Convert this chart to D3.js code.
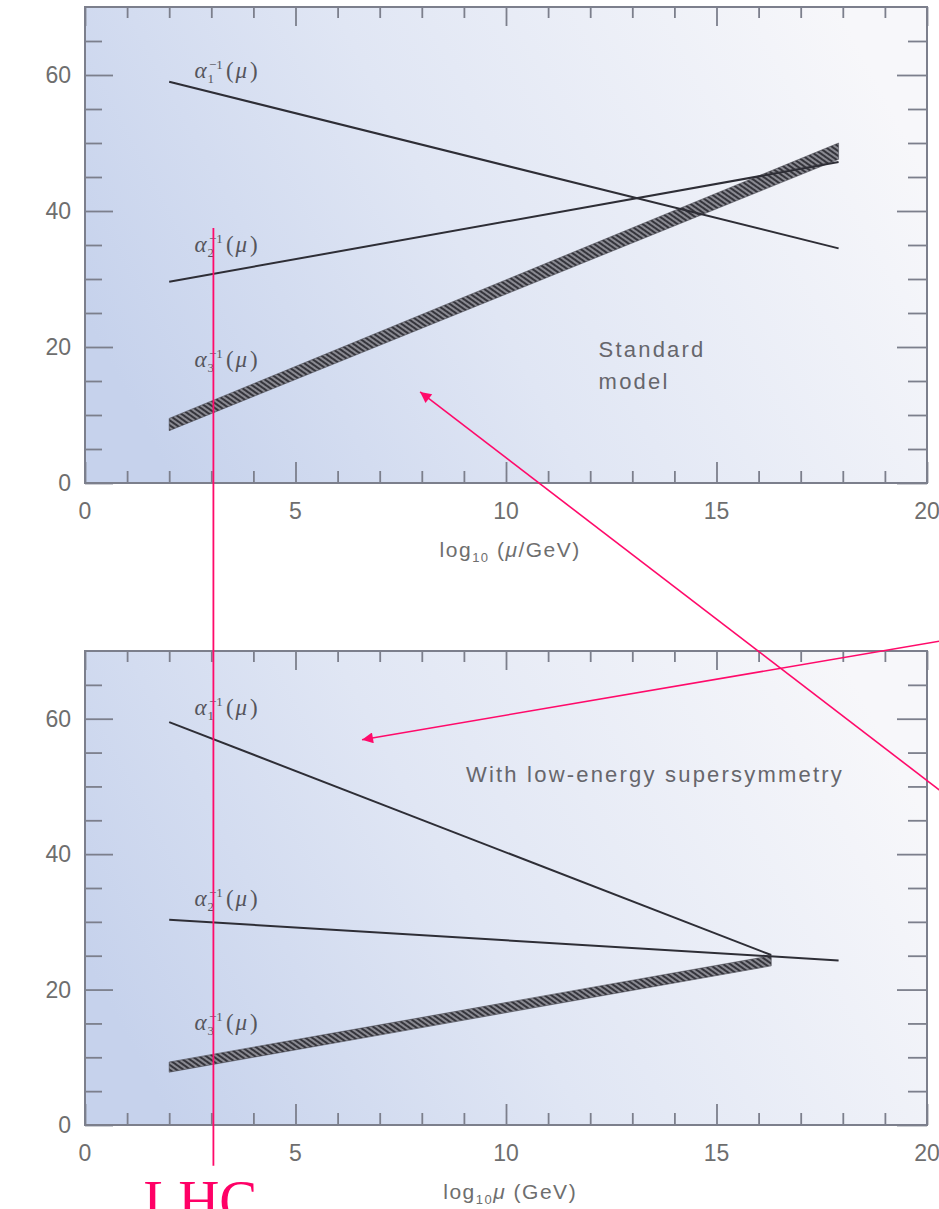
<!DOCTYPE html>
<html>
<head>
<meta charset="utf-8">
<script src="https://cdn.jsdelivr.net/npm/d3@7"></script>
<style>
  body { margin: 0; background: #fff; }
  svg { display: block; }
</style>
</head>
<body>
<div class="chart"></div>
<script>
// ticks
var xMajor = [0, 5, 10, 15, 20];
var xMinor = [1, 2, 3, 4, 6, 7, 8, 9, 11, 12, 13, 14, 16, 17, 18, 19];
var yMajor = [0, 20, 40, 60];
var yMinor = [5, 10, 15, 25, 30, 35, 45, 50, 55, 65];

// standard model: [log10 mu, alpha^-1]
var smAlpha1 = [[2, 59.0], [17.9, 34.5]];
var smAlpha2 = [[2, 29.6], [17.9, 47.2]];
var smAlpha3Low = [[2, 7.7], [17.9, 47.6]];
var smAlpha3High = [[2, 9.5], [17.9, 50.0]];

// with low-energy supersymmetry
var susyAlpha1 = [[2, 59.5], [16.3, 25.1]];
var susyAlpha2 = [[2, 30.3], [17.9, 24.3]];
var susyAlpha3Low = [[2, 7.8], [16.3, 23.5]];
var susyAlpha3High = [[2, 9.3], [16.3, 25.0]];

// annotations (data coords of the panel they start in)
var lhcX = 3.05;
var lhcTop = 37.5;     // top panel
var lhcBottom = -6.0;  // bottom panel
var arrowSusy = [[21, 72.2], [6.58, 56.9]];   // bottom panel
var arrowSm = [[21, -48.5], [7.96, 13.4]];    // top panel

var W = 939, H = 1209;
var pink = "#ff0a6a";

var svg = d3.select(".chart").append("svg")
    .attr("width", W)
    .attr("height", H);

var defs = svg.append("defs");

var grad = defs.append("linearGradient")
    .attr("id", "bg")
    .attr("x1", "0").attr("y1", "0.65")
    .attr("x2", "1").attr("y2", "0.35");
grad.append("stop").attr("offset", "0").attr("stop-color", "#c6d2ec");
grad.append("stop").attr("offset", "0.45").attr("stop-color", "#e0e6f4");
grad.append("stop").attr("offset", "1").attr("stop-color", "#f7f7fa");

var hatch = defs.append("pattern")
    .attr("id", "hatch")
    .attr("patternUnits", "userSpaceOnUse")
    .attr("width", 4)
    .attr("height", 4)
    .attr("patternTransform", "rotate(-55)");
hatch.append("rect")
    .attr("width", 4).attr("height", 4)
    .style("fill", "#8a8a92");
hatch.append("rect")
    .attr("width", 2).attr("height", 4)
    .style("fill", "#35353c");

defs.append("marker")
    .attr("id", "arrow")
    .attr("viewBox", "0 0 10 10")
    .attr("refX", 10).attr("refY", 5)
    .attr("markerWidth", 15).attr("markerHeight", 11)
    .attr("markerUnits", "userSpaceOnUse")
    .attr("orient", "auto")
    .append("path")
    .attr("d", "M0,0 L10,5 L0,10 z")
    .style("fill", pink);

var x = d3.scaleLinear().domain([0, 20]).range([85, 927]);

function drawPanel(top, bottom, series, band, labels, note, xTitle){
    var y = d3.scaleLinear().domain([0, 70]).range([bottom, top]);
    var g = svg.append("g");

    g.append("rect")
        .attr("x", x(0))
        .attr("y", y(70))
        .attr("width", x(20) - x(0))
        .attr("height", y(0) - y(70))
        .style("fill", "url(#bg)");

    // ticks on all four sides, pointing inward
    var axes = [
        [d3.axisTop(x).tickValues(xMinor).tickSize(12), "translate(0," + y(0) + ")"],
        [d3.axisTop(x).tickValues(xMajor).tickSize(21), "translate(0," + y(0) + ")"],
        [d3.axisBottom(x).tickValues(xMinor).tickSize(11), "translate(0," + y(70) + ")"],
        [d3.axisBottom(x).tickValues(xMajor).tickSize(19), "translate(0," + y(70) + ")"],
        [d3.axisRight(y).tickValues(yMinor).tickSize(17), "translate(" + x(0) + ",0)"],
        [d3.axisRight(y).tickValues(yMajor).tickSize(28), "translate(" + x(0) + ",0)"],
        [d3.axisLeft(y).tickValues(yMinor).tickSize(19), "translate(" + x(20) + ",0)"],
        [d3.axisLeft(y).tickValues(yMajor).tickSize(30), "translate(" + x(20) + ",0)"]
    ];
    axes.forEach(function(a){
        var ax = g.append("g")
            .attr("transform", a[1])
            .call(a[0].tickFormat(""));
        ax.select(".domain").remove();
        ax.selectAll("line")
            .style("stroke", "#7c7f8c")
            .style("stroke-width", 1.8);
    });

    g.append("rect")
        .attr("x", x(0))
        .attr("y", y(70))
        .attr("width", x(20) - x(0))
        .attr("height", y(0) - y(70))
        .style("fill", "none")
        .style("stroke", "#7c7f8c")
        .style("stroke-width", 2);

    // tick labels
    g.selectAll(".xl")
        .data(xMajor)
        .enter().append("text")
        .attr("x", function(d){ return x(d); })
        .attr("y", y(0) + 36)
        .attr("text-anchor", "middle")
        .style("font-family", "Liberation Sans, Arial")
        .style("font-size", "23px")
        .style("fill", "#6e6e6e")
        .text(function(d){ return d; });

    g.selectAll(".yl")
        .data(yMajor)
        .enter().append("text")
        .attr("x", x(0) - 14)
        .attr("y", function(d){ return y(d) + 8; })
        .attr("text-anchor", "end")
        .style("font-family", "Liberation Sans, Arial")
        .style("font-size", "23px")
        .style("fill", "#6e6e6e")
        .text(function(d){ return d; });

    // x title
    var t = g.append("text")
        .attr("x", x(10.1))
        .attr("y", y(0) + 74)
        .attr("text-anchor", "middle")
        .style("font-family", "Liberation Sans, Arial")
        .style("font-size", "21px")
        .style("letter-spacing", "1.5px")
        .style("fill", "#6e6e6e");
    xTitle.forEach(function(p){
        var s = t.append("tspan").text(p.t);
        if (p.sub) s.style("font-size", "13px").attr("dy", 5);
        if (p.after) s.attr("dy", -5);
        if (p.it) s.style("font-style", "italic");
    });

    // hatched band (alpha3)
    var area = d3.area()
        .x(function(d){ return x(d[0]); })
        .y0(function(d){ return y(d[1]); })
        .y1(function(d, i){ return y(band[1][i][1]); });
    g.append("path")
        .datum(band[0])
        .attr("d", area)
        .style("fill", "url(#hatch)")
        .style("stroke", "#4a4a52")
        .style("stroke-width", 0.6);

    var ln = d3.line()
        .x(function(d){ return x(d[0]); })
        .y(function(d){ return y(d[1]); });
    series.forEach(function(s){
        g.append("path")
            .datum(s)
            .attr("d", ln)
            .style("fill", "none")
            .style("stroke", "#2e2e36")
            .style("stroke-width", 2);
    });

    // alpha labels
    labels.forEach(function(l){
        var lt = g.append("text")
            .attr("x", x(l.x))
            .attr("y", y(l.y))
            .style("font-family", "Liberation Serif, Times New Roman")
            .style("font-size", "23px")
            .style("font-style", "italic")
            .style("fill", "#55555c");
        lt.append("tspan").text("α");
        lt.append("tspan").text(l.i).style("font-size", "13px").style("font-style", "normal").attr("dx", 1).attr("dy", 5);
        lt.append("tspan").text("−1").style("font-size", "13px").style("font-style", "normal").attr("dx", -5).attr("dy", -14);
        lt.append("tspan").text("(").attr("dx", 3).attr("dy", 9).style("font-style", "normal");
        lt.append("tspan").text("μ").attr("dx", 2);
        lt.append("tspan").text(")").attr("dx", 3).style("font-style", "normal");
    });

    // panel note
    note.lines.forEach(function(s, i){
        g.append("text")
            .attr("x", x(note.x))
            .attr("y", y(note.y) + i * 32)
            .style("font-family", "Liberation Sans, Arial")
            .style("font-size", "22px")
            .style("letter-spacing", "2.2px")
            .style("fill", "#66666c")
            .text(s);
    });

    return y;
}

var yTop = drawPanel(7, 483,
    [smAlpha1, smAlpha2],
    [smAlpha3Low, smAlpha3High],
    [{i: "1", x: 2.6, y: 59.6}, {i: "2", x: 2.6, y: 34.0}, {i: "3", x: 2.6, y: 17.0}],
    {x: 12.2, y: 18.6, lines: ["Standard", "model"]},
    [{t: "log"}, {t: "10", sub: true}, {t: " (", after: true}, {t: "μ", it: true}, {t: "/GeV)"}]);

var yBot = drawPanel(651, 1125,
    [susyAlpha1, susyAlpha2],
    [susyAlpha3Low, susyAlpha3High],
    [{i: "1", x: 2.6, y: 60.6}, {i: "2", x: 2.6, y: 32.4}, {i: "3", x: 2.6, y: 14.0}],
    {x: 9.05, y: 50.6, lines: ["With low-energy supersymmetry"]},
    [{t: "log"}, {t: "10", sub: true}, {t: "μ", it: true, after: true}, {t: " (GeV)"}]);

// LHC marker
svg.append("line")
    .attr("x1", x(lhcX)).attr("x2", x(lhcX))
    .attr("y1", yTop(lhcTop)).attr("y2", yBot(lhcBottom))
    .style("stroke", pink)
    .style("stroke-width", 1.8);

svg.append("text")
    .attr("x", x(lhcX) - 13)
    .attr("y", 1220)
    .attr("text-anchor", "middle")
    .style("font-family", "Liberation Serif, Times New Roman")
    .style("font-size", "57px")
    .style("fill", "#ff0066")
    .text("LHC");

// arrows
[[arrowSusy, yBot], [arrowSm, yTop]].forEach(function(a){
    svg.append("line")
        .attr("x1", x(a[0][0][0])).attr("y1", a[1](a[0][0][1]))
        .attr("x2", x(a[0][1][0])).attr("y2", a[1](a[0][1][1]))
        .attr("marker-end", "url(#arrow)")
        .style("stroke", pink)
        .style("stroke-width", 1.6);
});
</script>
</body>
</html>
